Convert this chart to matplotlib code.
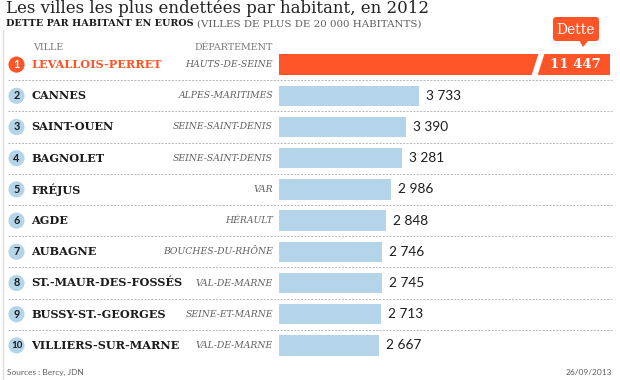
import numpy as np
import matplotlib
matplotlib.use('Agg')
import matplotlib.pyplot as plt
import matplotlib.transforms as mtransforms
from matplotlib.patches import FancyBboxPatch, Polygon


''' Data '''
rangs = [1, 2, 3, 4, 5, 6, 7, 8, 9, 10]
villes = ['LEVALLOIS-PERRET', 'CANNES', 'SAINT-OUEN', 'BAGNOLET', 'FRÉJUS',
          'AGDE', 'AUBAGNE', 'ST.-MAUR-DES-FOSSÉS', 'BUSSY-ST.-GEORGES',
          'VILLIERS-SUR-MARNE']
departements = ['HAUTS-DE-SEINE', 'ALPES-MARITIMES', 'SEINE-SAINT-DENIS',
                'SEINE-SAINT-DENIS', 'VAR', 'HÉRAULT', 'BOUCHES-DU-RHÔNE',
                'VAL-DE-MARNE', 'SEINE-ET-MARNE', 'VAL-DE-MARNE']
dette = [11447, 3733, 3390, 3281, 2986, 2848, 2746, 2745, 2713, 2667]

titre = 'Les villes les plus endettées par habitant, en 2012'
sous_titre = 'DETTE PAR HABITANT EN EUROS'
sous_titre_gris = '(VILLES DE PLUS DE 20 000 HABITANTS)'
source = 'Sources : Bercy, JDN'
date = '26/09/2013'

''' Style '''
W, H = 620, 380
ORANGE = '#fd5528'
BLUE = '#b4d4ea'
DARK = '#1c1c1c'
GREY = '#606060'
SLAB = 'DejaVu Serif'
SANS = 'Lato'

fig = plt.figure(figsize=(W / 100, H / 100), dpi=100)

# overlay in pixel coordinates (y down) for titles, header, footer
over = fig.add_axes([0, 0, 1, 1])
over.set_xlim(0, W)
over.set_ylim(H, 0)
over.axis('off')

# bar axes: x = euros, y = rank row
left, right, top, bottom = 279, 610, 49, 361
ax = fig.add_axes([left / W, 1 - bottom / H, (right - left) / W, (bottom - top) / H])
ax.set_autoscale_on(False)
ax.set_xlim(0, (right - left) / 0.0375)
ax.set_ylim(len(villes) - 0.5, -0.5)
ax.axis('off')

# x in pixels, y in rows
px_row = mtransforms.blended_transform_factory(
    mtransforms.Affine2D().scale(1 / W, 1) + fig.transFigure, ax.transData)

y = np.arange(len(villes))
xmax = ax.get_xlim()[1]
shown = [min(v, xmax) for v in dette]
colors = [ORANGE if r == 1 else BLUE for r in rangs]
ax.barh(y, shown, height=0.66, color=colors, edgecolor='none', zorder=2)

for i, v in enumerate(dette):
    label = f'{v:,}'.replace(',', ' ')
    if v > xmax:
        # break in the bar
        ax.add_patch(Polygon([(531, i + 0.4), (539, i - 0.4), (545, i - 0.4), (537, i + 0.4)],
                             closed=True, facecolor='white', edgecolor='none',
                             transform=px_row, zorder=3, clip_on=False))
        ax.annotate(label, xy=(xmax, i), xytext=(-6.5, 0), textcoords='offset points',
                    ha='right', va='center', color='white', fontsize=9.5,
                    fontweight='bold', family=SLAB, zorder=4)
    else:
        ax.annotate(label, xy=(v, i), xytext=(5, 0), textcoords='offset points',
                    ha='left', va='center', color=DARK, fontsize=9.8, family=SANS)

# rank circles
ax.scatter([16.5] * len(y), y, s=135, c=colors, transform=px_row,
           clip_on=False, zorder=3, edgecolors='none')
for i, r in enumerate(rangs):
    ax.text(16.5, i, str(r), transform=px_row, ha='center', va='center',
            fontsize=7.8 if r < 10 else 7, fontweight='bold', family=SANS,
            color='white' if r == 1 else DARK, zorder=4)
    ax.text(31, i, villes[i], transform=px_row, ha='left', va='center',
            fontsize=8.1, fontweight='bold', family=SLAB,
            color=ORANGE if r == 1 else DARK)
    ax.text(273, i, departements[i], transform=px_row, ha='right', va='center',
            fontsize=6.7, style='italic', family=SLAB, color=GREY)

# dotted separators
for i in y[:-1]:
    ax.plot([8, 612], [i + 0.5, i + 0.5], transform=px_row, color='#b5b5b5',
            lw=0.7, ls=(0, (2, 1.5)), clip_on=False, zorder=1)

''' Titles '''
over.text(6, 13, titre, ha='left', va='baseline', fontsize=12,
          family=SLAB, color='#222222')
st = over.text(6, 26.5, sous_titre, ha='left', va='baseline', fontsize=6.9,
               fontweight='bold', family=SLAB, color=DARK)
over.annotate(sous_titre_gris, xy=(1, 0), xycoords=st, xytext=(2.5, 0),
              textcoords='offset points', ha='left', va='bottom',
              fontsize=7.4, family=SLAB, color=GREY)
over.text(33, 47, 'VILLE', ha='left', va='center', fontsize=6.8,
          family=SLAB, color='#7a7a7a')
over.text(273, 47, 'DÉPARTEMENT', ha='right', va='center', fontsize=6.8,
          family=SLAB, color='#7a7a7a')

# "Dette" callout
over.add_patch(FancyBboxPatch((555, 19), 42, 20, boxstyle='round,pad=2,rounding_size=3',
                              facecolor=ORANGE, edgecolor='none'))
over.add_patch(Polygon([(579, 40), (589, 40), (583, 47)], closed=True,
                       facecolor=ORANGE, edgecolor='none'))
over.text(576, 29.5, 'Dette', ha='center', va='center', fontsize=10,
          family=SLAB, color='white')

''' Frame and footer '''
over.plot([2.5, 2.5], [30, H], color='#dddddd', lw=1)
over.text(7, 375, source, ha='left', va='baseline', fontsize=6, family=SANS, color=GREY)
over.text(612, 375, date, ha='right', va='baseline', fontsize=6, family=SANS, color=GREY)

fig.savefig('out.png', dpi=100)
plt.close(fig)
